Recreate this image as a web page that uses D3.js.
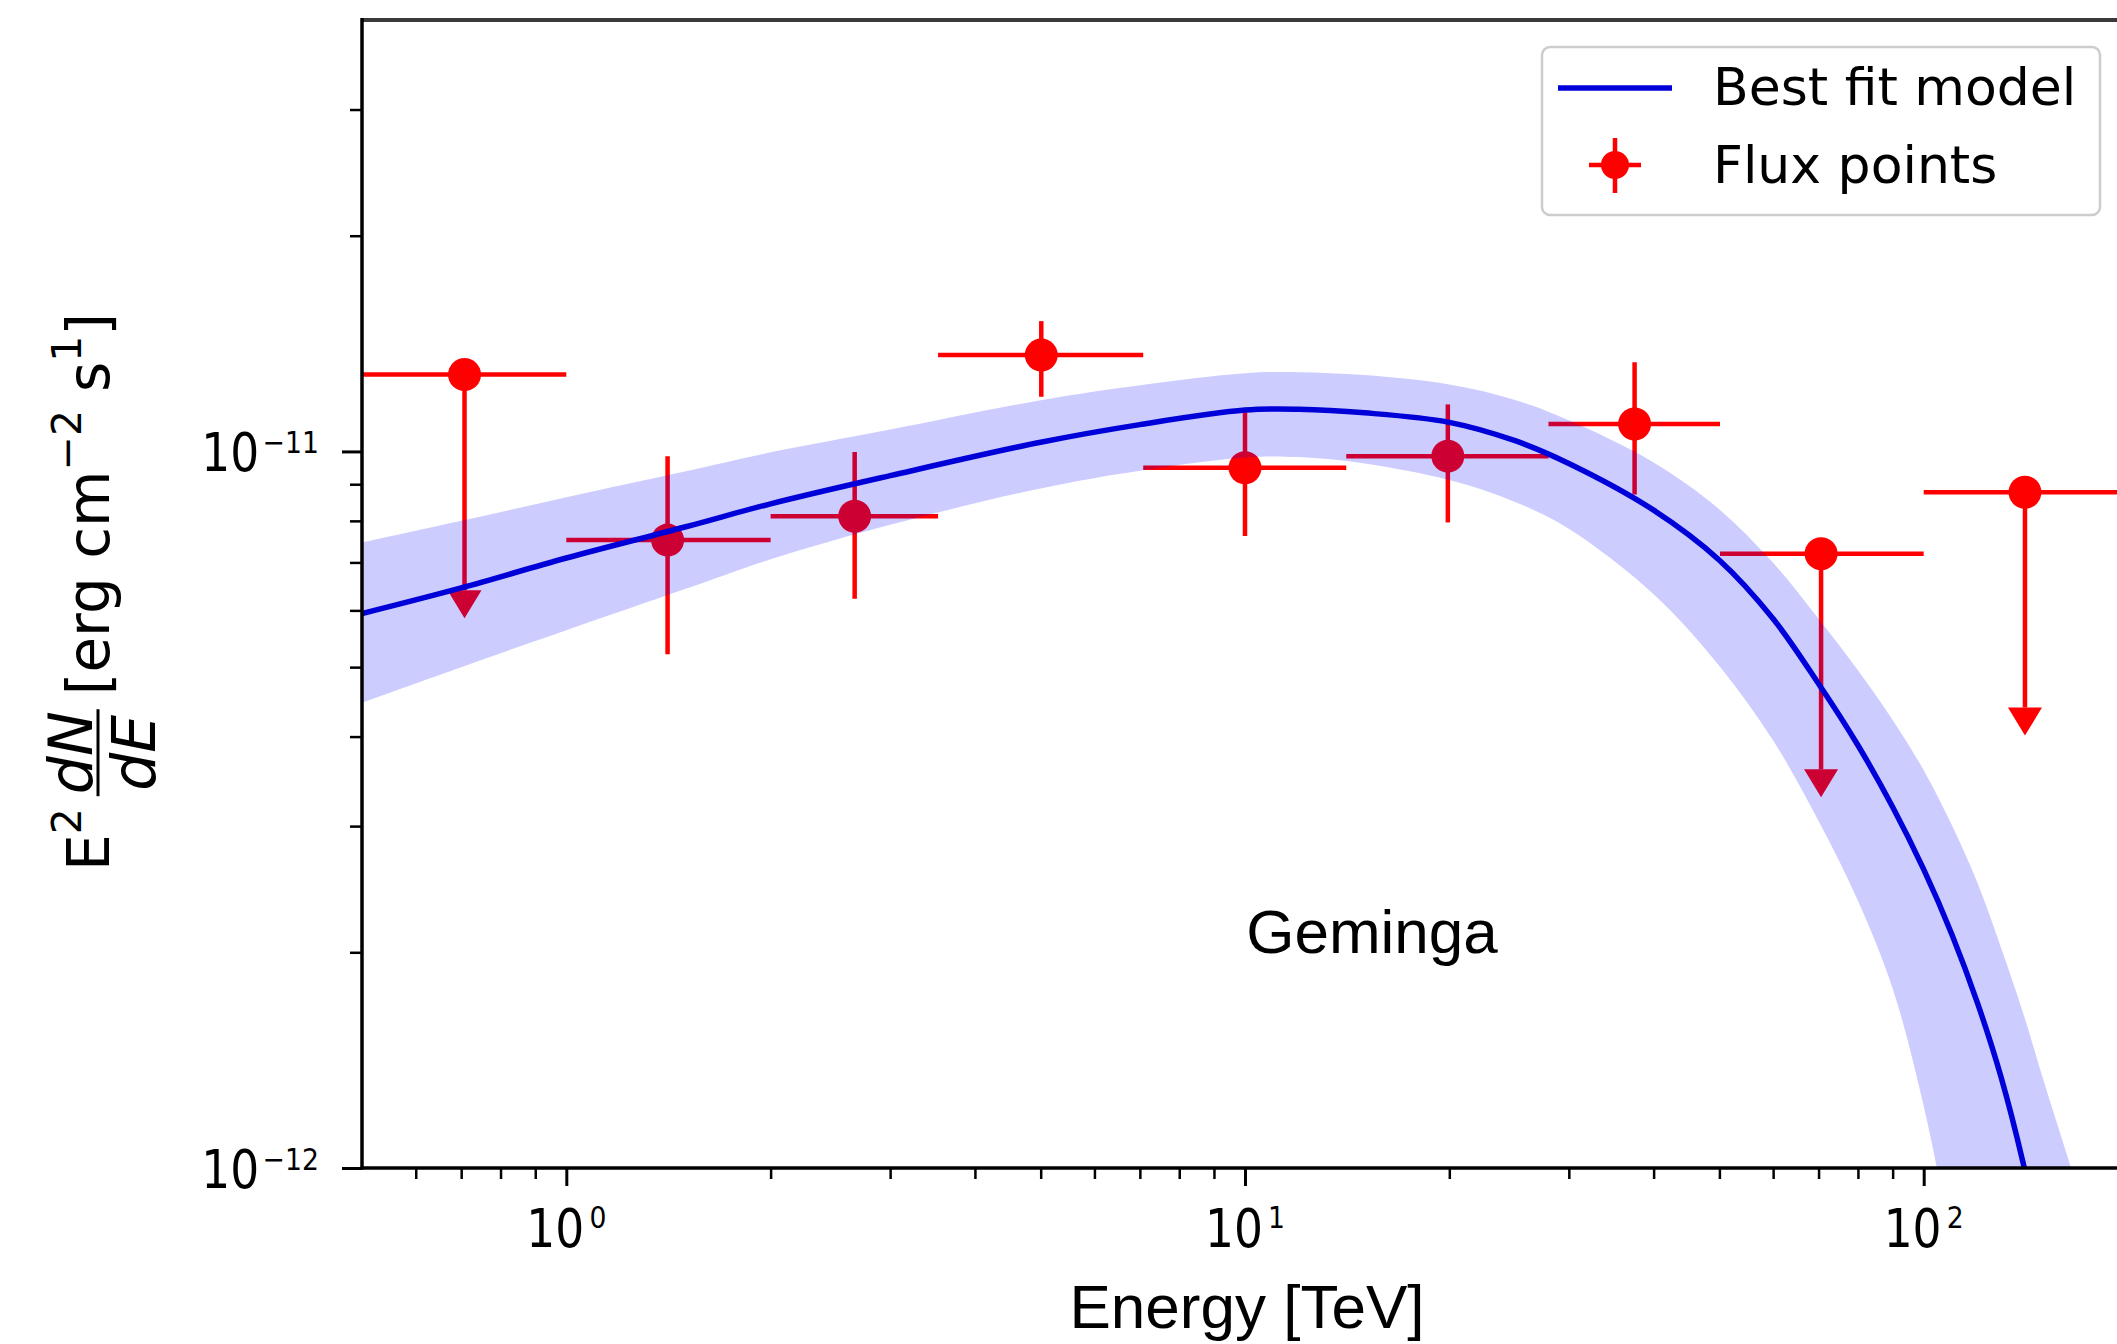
<!DOCTYPE html>
<html>
<head>
<meta charset="utf-8">
<script src="https://cdn.jsdelivr.net/npm/d3@7"></script>
<style>
  body { margin: 0; background: #fff; }
  svg { display: block; }
</style>
</head>
<body>
<svg id="chart" width="2117" height="1344"></svg>
<script>
// flux points: energy in TeV, E^2 dN/dE in units of 1e-12 erg cm-2 s-1
const pointE   = [0.708, 1.41, 2.66, 5.01, 10.0, 19.9, 37.5, 70.6, 141];
const pointElo = [0.5, 1.0, 2.0, 3.53, 7.08, 14.1, 28.0, 50.1, 100];
const pointEhi = [1.0, 2.0, 3.53, 7.08, 14.1, 28.0, 50.1, 100, 200];
const pointF   = [12.8, 7.52, 8.12, 13.63, 9.49, 9.85, 10.92, 7.2, 8.77];
const pointFlo = [6.4, 5.21, 6.23, 11.92, 7.62, 7.96, 8.71, 3.6, 4.39];
const pointFhi = [12.8, 9.85, 9.98, 15.2, 11.38, 11.63, 13.32, 7.2, 8.77];
const upperLimit = [true, false, false, false, false, false, false, true, true];

// best fit model and its error band (same units)
const modelE = [0.5, 0.7, 1, 1.5, 2, 3, 5, 7, 10, 12, 15, 20, 25, 30, 40, 50, 60, 70, 80, 90, 100, 110, 120, 130, 140, 150, 165];
const modelF = [5.94, 6.45, 7.10, 7.85, 8.45, 9.25, 10.30, 10.90, 11.42, 11.45, 11.32, 10.98, 10.35, 9.62, 8.28, 7.05, 5.84, 4.74, 3.89, 3.19, 2.61, 2.12, 1.70, 1.34, 1.02, 0.75, 0.48];
const bandHi = [7.46, 8.00, 8.63, 9.38, 9.97, 10.73, 11.79, 12.37, 12.86, 12.90, 12.78, 12.40, 11.80, 11.05, 9.65, 8.30, 6.99, 5.84, 4.95, 4.22, 3.59, 3.01, 2.50, 2.03, 1.65, 1.33, 1.00];
const bandLo = [4.46, 5.00, 5.63, 6.43, 7.07, 7.90, 8.88, 9.40, 9.81, 9.82, 9.62, 9.12, 8.50, 7.80, 6.32, 5.02, 3.95, 3.05, 2.36, 1.78, 1.22, 0.78, 0.50, 0.32, 0.20, 0.13, 0.07];

const unit = 1e-12;

// axis ticks
const xMajor = [1, 10, 100];
const xMajorExp = ['0', '1', '2'];
const yMajor = [1e-12, 1e-11];
const yMajorExp = ['\u221212', '\u221211'];

const W = 2117, H = 1344;
const mLeft = 362, mTop = 20, mBottom = 1168, mRight = 2128;

const x = d3.scaleLog().domain([0.5, 200]).range([mLeft, mRight]);
const y = d3.scaleLog().domain([1e-12, 4e-11]).range([mBottom, mTop]);

const svg = d3.select('#chart');
svg.append('rect').attr('width', W).attr('height', H).attr('fill', '#fff');

svg.append('defs').append('clipPath').attr('id', 'plotclip')
    .append('rect')
    .attr('x', mLeft).attr('y', mTop)
    .attr('width', mRight - mLeft).attr('height', mBottom - mTop);

const plot = svg.append('g').attr('clip-path', 'url(#plotclip)');

const red = '#ff0000';
const blue = '#0000d8';

// flux points first, the band is drawn over them
const pts = d3.range(pointE.length);
const pg = plot.append('g').attr('stroke', red).attr('stroke-width', 4.5);

pg.selectAll('.xerr').data(pts).enter().append('line')
    .attr('x1', i => x(pointElo[i])).attr('x2', i => x(pointEhi[i]))
    .attr('y1', i => y(pointF[i] * unit)).attr('y2', i => y(pointF[i] * unit));

pg.selectAll('.yerr').data(pts).enter().append('line')
    .attr('x1', i => x(pointE[i])).attr('x2', i => x(pointE[i]))
    .attr('y1', i => y(pointFhi[i] * unit)).attr('y2', i => y(pointFlo[i] * unit));

plot.selectAll('.ul').data(pts.filter(i => upperLimit[i])).enter().append('path')
    .attr('fill', red)
    .attr('d', i => {
        const cx = x(pointE[i]), cy = y(pointFlo[i] * unit);
        return `M${cx - 17},${cy}L${cx + 17},${cy}L${cx},${cy + 28}Z`;
    });

plot.selectAll('.pt').data(pts).enter().append('circle')
    .attr('cx', i => x(pointE[i]))
    .attr('cy', i => y(pointF[i] * unit))
    .attr('r', 16.5)
    .attr('fill', red);

// model band and line
const modelIdx = d3.range(modelE.length);
const smooth = d3.curveCatmullRom.alpha(0.5);
plot.append('path')
    .datum(modelIdx)
    .attr('fill', '#0000ff')
    .attr('fill-opacity', 0.2)
    .attr('d', d3.area()
        .curve(smooth)
        .x(i => x(modelE[i]))
        .y0(i => y(bandLo[i] * unit))
        .y1(i => y(bandHi[i] * unit)));

plot.append('path')
    .datum(modelIdx)
    .attr('fill', 'none')
    .attr('stroke', blue)
    .attr('stroke-width', 5.5)
    .attr('d', d3.line()
        .curve(smooth)
        .x(i => x(modelE[i]))
        .y(i => y(modelF[i] * unit)));

// axes
const xMinor = x.ticks().filter(v => !xMajor.includes(v) && v > 0.5);
const yMinor = y.ticks().filter(v => !yMajor.some(m => Math.abs(m - v) < 1e-15) && v < 3.9e-11);

function styleAxis(g, w) {
    g.select('.domain').remove();
    g.selectAll('.tick line').attr('stroke', '#000').attr('stroke-width', w);
}

svg.append('g').attr('transform', `translate(0,${mBottom})`)
    .call(d3.axisBottom(x).tickValues(xMinor).tickSize(11).tickFormat(''))
    .call(g => styleAxis(g, 2.5));
svg.append('g').attr('transform', `translate(0,${mBottom})`)
    .call(d3.axisBottom(x).tickValues(xMajor).tickSize(18).tickFormat(''))
    .call(g => styleAxis(g, 3));
svg.append('g').attr('transform', `translate(${mLeft},0)`)
    .call(d3.axisLeft(y).tickValues(yMinor).tickSize(12).tickFormat(''))
    .call(g => styleAxis(g, 2.5));
svg.append('g').attr('transform', `translate(${mLeft},0)`)
    .call(d3.axisLeft(y).tickValues(yMajor).tickSize(20).tickFormat(''))
    .call(g => styleAxis(g, 3));

// spines
svg.append('line').attr('x1', mLeft).attr('x2', W).attr('y1', mTop).attr('y2', mTop)
    .attr('stroke', '#3a3a3a').attr('stroke-width', 4);
svg.append('line').attr('x1', mLeft).attr('x2', mLeft).attr('y1', mTop - 2).attr('y2', mBottom + 1.5)
    .attr('stroke', '#000').attr('stroke-width', 3.5);
svg.append('line').attr('x1', mLeft - 1.5).attr('x2', W).attr('y1', mBottom).attr('y2', mBottom)
    .attr('stroke', '#000').attr('stroke-width', 3.5);

// tick labels (10^n)
const tickFont = 'DejaVu Sans';
xMajor.forEach((v, i) => {
    const t = svg.append('text')
        .attr('transform', `translate(${x(v)},1247) scale(0.86,1)`)
        .attr('text-anchor', 'middle')
        .attr('font-family', tickFont)
        .attr('font-size', 53)
        .attr('fill', '#000');
    t.append('tspan').text('10');
    t.append('tspan').attr('dx', 6).attr('dy', -19).attr('font-size', 31).text(xMajorExp[i]);
});
yMajor.forEach((v, i) => {
    const t = svg.append('text')
        .attr('transform', `translate(319,${y(v) + 20}) scale(0.86,1)`)
        .attr('text-anchor', 'end')
        .attr('font-family', tickFont)
        .attr('font-size', 53)
        .attr('fill', '#000');
    t.append('tspan').text('10');
    t.append('tspan').attr('dx', 4).attr('dy', -18).attr('font-size', 31).text(yMajorExp[i]);
});

// x label and source name
svg.append('text')
    .attr('x', 1247).attr('y', 1328)
    .attr('text-anchor', 'middle')
    .attr('font-family', 'Liberation Sans')
    .attr('font-size', 62)
    .text('Energy [TeV]');

svg.append('text')
    .attr('x', 1372).attr('y', 953)
    .attr('text-anchor', 'middle')
    .attr('font-family', 'Liberation Sans')
    .attr('font-size', 62)
    .text('Geminga');

// y label: E^2 dN/dE [erg cm^-2 s^1], built piece by piece
const ylab = svg.append('g').attr('transform', 'translate(109,592) rotate(-90)');
const inner = ylab.append('g');
let cx = 0;
function piece(txt, size, dy, italic) {
    const t = inner.append('text')
        .attr('x', cx).attr('y', dy)
        .attr('font-family', 'DejaVu Sans')
        .attr('font-size', size)
        .attr('font-style', italic ? 'italic' : 'normal')
        .text(txt);
    cx += t.node().getComputedTextLength();
    return t;
}
piece('E', 58, 0);
piece('2', 41, -28);
cx += 14;
{
    const fx = cx;
    const num = inner.append('text').attr('y', -17).attr('font-family', 'DejaVu Sans')
        .attr('font-size', 60).attr('font-style', 'italic').text('dN');
    const den = inner.append('text').attr('y', 46).attr('font-family', 'DejaVu Sans')
        .attr('font-size', 60).attr('font-style', 'italic').text('dE');
    const wn = num.node().getComputedTextLength();
    const wd = den.node().getComputedTextLength();
    const w = Math.max(wn, wd);
    num.attr('x', fx + (w - wn) / 2);
    den.attr('x', fx + (w - wd) / 2);
    inner.append('line').attr('x1', fx - 2).attr('x2', fx + w + 2)
        .attr('y1', -11).attr('y2', -11).attr('stroke', '#000').attr('stroke-width', 3);
    cx = fx + w + 16;
}
piece('[erg cm', 58, 0);
piece('\u22122', 41, -28);
cx += 18;
piece('s', 58, 0);
piece('1', 41, -28);
piece(']', 58, 0);
inner.attr('transform', `translate(${-cx / 2},0)`);

// legend
const lg = svg.append('g');
lg.append('rect')
    .attr('x', 1542).attr('y', 47).attr('width', 558).attr('height', 168)
    .attr('rx', 8)
    .attr('fill', '#fff').attr('fill-opacity', 0.8)
    .attr('stroke', '#cccccc').attr('stroke-width', 2.5);
lg.append('line').attr('x1', 1558).attr('x2', 1672).attr('y1', 88).attr('y2', 88)
    .attr('stroke', blue).attr('stroke-width', 5.5);
lg.append('text').attr('x', 1713).attr('y', 105)
    .attr('font-family', 'DejaVu Sans').attr('font-size', 52)
    .text('Best fit model');
const mk = lg.append('g').attr('stroke', red).attr('stroke-width', 4.5);
mk.append('line').attr('x1', 1589).attr('x2', 1641).attr('y1', 165).attr('y2', 165);
mk.append('line').attr('x1', 1615).attr('x2', 1615).attr('y1', 138).attr('y2', 193);
lg.append('circle').attr('cx', 1615).attr('cy', 165).attr('r', 14).attr('fill', red);
lg.append('text').attr('x', 1713).attr('y', 183)
    .attr('font-family', 'DejaVu Sans').attr('font-size', 52)
    .text('Flux points');
</script>
</body>
</html>
